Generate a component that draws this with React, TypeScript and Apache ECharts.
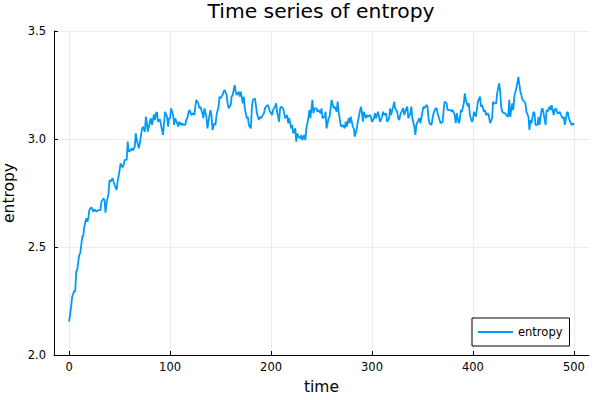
import React, { useEffect, useRef } from "react";
import * as echarts from "echarts";

const title = "Time series of entropy";
const seriesName = "entropy";
const xName = "time";
const yName = "entropy";
const xTicks = [0, 100, 200, 300, 400, 500];
const yTicks = [2.0, 2.5, 3.0, 3.5];

const time = [
  0, 2, 3, 5, 6, 7, 8, 10, 11, 12, 13, 14, 15, 17, 18, 19, 20, 22, 24, 25,
  27, 29, 31, 32, 34, 35, 36, 37, 39, 40, 41, 43, 44, 45, 47, 48,
  50, 51, 53, 54, 55, 57, 58, 59, 61, 62, 63, 65, 66, 67, 69, 70, 72, 73, 75, 76,
  77, 78, 80, 81, 82, 84, 85, 86, 87, 88, 90, 91, 93, 94, 95, 97, 98, 99,
  100, 101, 103, 104, 105, 107, 108, 109, 111, 112, 113, 115, 116, 117, 119, 120, 121, 123, 124, 125,
  126, 128, 129, 130, 132, 133, 134, 136, 137, 138, 140, 141, 142, 144, 145, 146, 148, 149, 150, 152, 153, 154,
  156, 157, 158, 160, 161, 162, 164, 165, 166, 168, 169, 170, 172, 173, 174, 176, 177, 178, 180, 181,
  182, 184, 185, 186, 188, 189, 190, 192, 193, 194, 195, 197, 198, 199, 201, 202,
  204, 205, 206, 208, 209, 210, 212, 213, 214, 216, 217, 218, 220, 221, 222, 224, 225, 226, 227, 229,
  230, 231, 233, 234, 235, 237, 238, 239, 241, 242, 243, 245, 246, 247, 249, 250, 251, 253, 254, 255,
  257, 258, 259, 260, 262, 263,
  265, 266, 267, 269, 270, 271, 273, 274, 275, 277, 278, 279, 281, 282, 283, 285, 286, 287, 289, 290,
  291, 292, 294, 295, 296, 298, 299, 300, 302, 303, 304, 306, 307, 308, 310, 311, 312,
  314, 315, 317, 318, 319, 321, 322, 323, 325, 326, 327, 328, 330, 331, 332, 334, 335, 336, 338, 339,
  340, 342, 343, 344, 346, 347, 348, 350, 351, 352, 354, 355, 356, 357, 359, 360, 361, 363, 364, 365,
  367, 368, 370, 371, 372, 374, 375, 376, 378, 379, 380, 382, 383, 384, 386, 387, 388, 389, 391, 392,
  393, 395, 396, 397, 399, 400, 401, 403, 404, 405, 407, 408, 409, 411, 412, 413, 415, 416, 417, 419, 420, 421,
  423, 424, 426, 427, 428, 429, 431, 432, 433, 435, 436, 437, 439, 440, 441, 443, 444, 445, 447, 448,
  449, 451, 452, 453, 455, 456, 457, 458, 460, 461, 462, 464, 465, 466, 468, 469, 470, 472, 473, 474,
  476, 477, 478, 480, 481, 482, 484, 485, 486, 488, 489, 490, 491, 493, 494, 495, 497, 498, 499, 500,
];

const entropy = [
  2.154, 2.224, 2.270, 2.296, 2.293, 2.386, 2.394, 2.463, 2.471, 2.509, 2.548, 2.551, 2.594, 2.633, 2.617, 2.633, 2.671, 2.684, 2.664, 2.674,
  2.664, 2.671, 2.671, 2.710, 2.725, 2.718, 2.659, 2.702, 2.748, 2.810, 2.802, 2.818, 2.802, 2.787, 2.764, 2.802,
  2.856, 2.887, 2.869, 2.880, 2.903, 2.903, 2.988, 2.941, 2.949, 2.957, 2.946, 2.964, 3.026, 2.995, 2.957, 2.980, 3.042, 3.057, 3.034, 3.103,
  3.072, 3.034, 3.080, 3.096, 3.065, 3.114, 3.088, 3.119, 3.124, 3.080, 3.091, 3.065, 3.019, 3.072, 3.126, 3.103, 3.057, 3.096,
  3.096, 3.142, 3.111, 3.065, 3.096, 3.073, 3.057, 3.080, 3.065, 3.073, 3.065, 3.065, 3.088, 3.096, 3.134, 3.126, 3.111, 3.119, 3.111, 3.150,
  3.181, 3.165, 3.142, 3.150, 3.119, 3.096, 3.142, 3.103, 3.049, 3.080, 3.134, 3.111, 3.042, 3.073, 3.065, 3.111, 3.150, 3.196, 3.188, 3.204, 3.219, 3.227,
  3.204, 3.165, 3.142, 3.157, 3.196, 3.204, 3.250, 3.219, 3.204, 3.219, 3.196, 3.219, 3.165, 3.196, 3.142, 3.096, 3.103, 3.065, 3.049, 3.142,
  3.181, 3.188, 3.157, 3.119, 3.088, 3.103, 3.096, 3.111, 3.119, 3.142, 3.150, 3.157, 3.142, 3.126, 3.111, 3.134,
  3.150, 3.165, 3.126, 3.080, 3.142, 3.150, 3.142, 3.119, 3.096, 3.111, 3.073, 3.096, 3.049, 3.065, 3.026, 3.049, 2.988, 3.026, 3.011, 3.003,
  3.019, 2.995, 3.019, 2.995, 3.049, 3.096, 3.134, 3.096, 3.181, 3.119, 3.142, 3.142, 3.126, 3.134, 3.119, 3.142, 3.096, 3.103, 3.126, 3.049,
  3.096, 3.103, 3.142, 3.181, 3.142, 3.150,
  3.126, 3.173, 3.126, 3.065, 3.057, 3.065, 3.049, 3.080, 3.057, 3.096, 3.073, 3.103, 3.057, 3.049, 3.011, 3.049, 3.080, 3.103, 3.150, 3.126,
  3.080, 3.126, 3.096, 3.111, 3.103, 3.111, 3.103, 3.080, 3.096, 3.119, 3.096, 3.126, 3.103, 3.080, 3.103, 3.126, 3.111,
  3.119, 3.080, 3.096, 3.142, 3.111, 3.150, 3.173, 3.142, 3.126, 3.096, 3.088, 3.111, 3.134, 3.142, 3.111, 3.142, 3.150, 3.096, 3.119, 3.150,
  3.096, 3.057, 3.019, 3.065, 3.088, 3.096, 3.073, 3.126, 3.150, 3.142, 3.157, 3.150, 3.096, 3.073, 3.065, 3.096, 3.119, 3.142, 3.142, 3.119,
  3.088, 3.073, 3.080, 3.134, 3.173, 3.165, 3.134, 3.134, 3.134, 3.126, 3.134, 3.111, 3.073, 3.119, 3.073, 3.088, 3.134, 3.126, 3.165, 3.211,
  3.181, 3.150, 3.165, 3.111, 3.080, 3.088, 3.126, 3.103, 3.142, 3.173, 3.196, 3.150, 3.157, 3.126, 3.134, 3.111, 3.119, 3.103, 3.073, 3.096, 3.173, 3.165,
  3.165, 3.211, 3.258, 3.219, 3.150, 3.126, 3.119, 3.119, 3.111, 3.103, 3.181, 3.103, 3.165, 3.134, 3.196, 3.235, 3.258, 3.288, 3.219, 3.204,
  3.181, 3.173, 3.165, 3.126, 3.103, 3.042, 3.088, 3.073, 3.126, 3.119, 3.065, 3.065, 3.103, 3.065, 3.134, 3.142, 3.119, 3.065, 3.134, 3.126,
  3.150, 3.134, 3.157, 3.111, 3.134, 3.142, 3.119, 3.119, 3.126, 3.103, 3.096, 3.103, 3.065, 3.119, 3.126, 3.096, 3.073, 3.065, 3.073, 3.065,
];

const FONT = "DejaVu Sans";

export default function App() {
  const ref = useRef<HTMLDivElement>(null);
  useEffect(() => {
    if (!ref.current) return;
    const chart = echarts.init(ref.current, undefined, { renderer: "svg" });
    const data = time.map((t, i) => [t, entropy[i]]);
    chart.setOption({
      animation: false,
      backgroundColor: "#ffffff",
      textStyle: { fontFamily: FONT },
      title: {
        text: title,
        left: 321,
        top: 1,
        padding: 0,
        textAlign: "center",
        textStyle: { fontFamily: FONT, fontSize: 20.3, fontWeight: "normal", color: "#000" },
      },
      grid: {
        left: 54,
        right: 11,
        top: 31,
        bottom: 45,
        containLabel: false,
        outerBoundsMode: "none",
      },
      legend: {
        left: 472,
        top: 318,
        orient: "vertical",
        padding: [8, 7, 8, 6],
        borderColor: "#000",
        borderWidth: 1,
        borderRadius: 0,
        backgroundColor: "#fff",
        itemWidth: 35,
        itemHeight: 2,
        icon: "rect",
        textStyle: { fontFamily: FONT, fontSize: 11.5, color: "#000" },
        data: [seriesName],
      },
      xAxis: {
        type: "value",
        min: -15,
        max: 515,
        name: xName,
        nameLocation: "middle",
        nameGap: 24,
        nameTextStyle: { fontFamily: FONT, fontSize: 15.5, color: "#000" },
        axisLine: { show: true, onZero: false, lineStyle: { color: "#000", width: 1 } },
        axisTick: { show: true, inside: true, length: 4, customValues: xTicks, lineStyle: { color: "#000" } },
        axisLabel: { customValues: xTicks, fontFamily: FONT, fontSize: 11.5, color: "#000", margin: 6 },
        splitLine: { show: true, lineStyle: { color: "#ebebeb", width: 1 } },
      },
      yAxis: {
        type: "value",
        min: 2.0,
        max: 3.5,
        interval: 0.5,
        name: yName,
        nameLocation: "middle",
        nameGap: 32,
        nameTextStyle: { fontFamily: FONT, fontSize: 15.5, color: "#000" },
        axisLine: { show: true, onZero: false, lineStyle: { color: "#000", width: 1 } },
        axisTick: { show: true, inside: true, length: 4, lineStyle: { color: "#000" } },
        axisLabel: {
          fontFamily: FONT,
          fontSize: 11.5,
          color: "#000",
          margin: 8,
          formatter: (v: number) => (yTicks.indexOf(v) >= 0 ? v.toFixed(1) : ""),
        },
        splitLine: { show: true, lineStyle: { color: "#ebebeb", width: 1 } },
      },
      series: [
        {
          name: seriesName,
          type: "line",
          data,
          showSymbol: false,
          symbol: "none",
          lineStyle: { color: "#009AFA", width: 1.8 },
          itemStyle: { color: "#009AFA" },
        },
      ],
    });
    return () => chart.dispose();
  }, []);
  return (
    <div
      ref={ref}
      style={{ position: "fixed", left: 0, top: 0, width: 600, height: 400 }}
    />
  );
}
